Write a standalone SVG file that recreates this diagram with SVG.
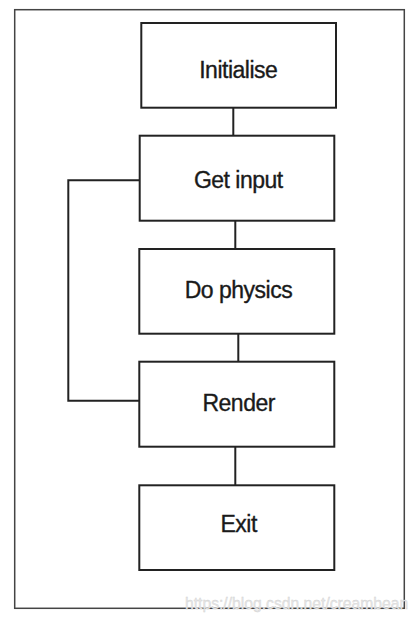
<svg xmlns="http://www.w3.org/2000/svg" width="418" height="622" viewBox="0 0 418 622">
<style>
.box{fill:#fff;stroke:#222;stroke-width:2}
.lbl{font-family:"Liberation Sans",Arial,sans-serif;font-size:23px;fill:#1a1a1a;stroke:#1a1a1a;stroke-width:0.35;text-anchor:middle;letter-spacing:-0.5px}
.con{fill:none;stroke:#222;stroke-width:2}
</style>
<rect x="0" y="0" width="418" height="622" fill="#fff"/>
<rect x="14.7" y="9.7" width="389.6" height="598.6" fill="none" stroke="#444" stroke-width="1.5"/>
<g id="connectors">
<line class="con" x1="233.3" y1="107.7" x2="233.3" y2="135.7"/>
<line class="con" x1="235.3" y1="220.7" x2="235.3" y2="249"/>
<line class="con" x1="238.3" y1="333.7" x2="238.3" y2="361.7"/>
<line class="con" x1="235.3" y1="446.7" x2="235.3" y2="485.3"/>
<polyline class="con" points="139.7,180.3 68.3,180.3 68.3,400.7 139.3,400.7"/>
</g>
<g id="initialise">
<rect class="box" x="141.3" y="23" width="194.7" height="84.7"/>
<text class="lbl" x="238.3" y="78.3">Initialise</text>
</g>
<g id="get-input">
<rect class="box" x="139.7" y="135.7" width="194.6" height="85"/>
<text class="lbl" x="238.3" y="188.3">Get input</text>
</g>
<g id="do-physics">
<rect class="box" x="139.3" y="249" width="195" height="84.7"/>
<text class="lbl" x="238.5" y="298.3">Do physics</text>
</g>
<g id="render">
<rect class="box" x="139.3" y="361.7" width="195" height="85"/>
<text class="lbl" x="238.7" y="411">Render</text>
</g>
<g id="exit">
<rect class="box" x="139.3" y="485.3" width="195" height="84.7"/>
<text class="lbl" x="238.7" y="531.7">Exit</text>
</g>
<text x="185" y="609" font-family="'Liberation Sans',Arial,sans-serif" font-size="15.7" fill="#e6e6e6" stroke="#cfcfcf" stroke-width="0.3">https://blog.csdn.net/creambean</text>
</svg>
